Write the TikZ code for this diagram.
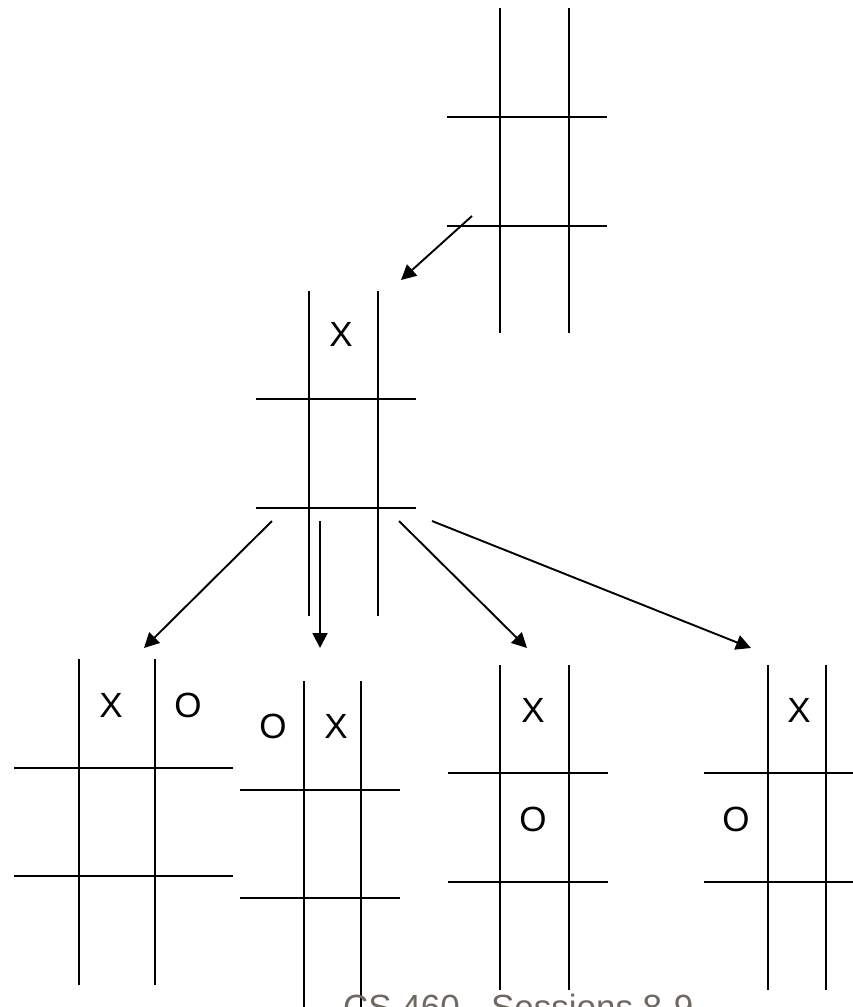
\documentclass[tikz,border=0pt]{standalone}
\usepackage{fontspec}
\setmainfont{Liberation Sans}
\usetikzlibrary{arrows.meta}
\definecolor{footgray}{RGB}{110,104,98}
\tikzset{
  grid/.style={line width=2.8pt, black},
  move/.style={line width=1.9pt, black, -{Triangle[length=15pt,width=15pt]}},
  piece/.style={font=\fontsize{35}{35}\selectfont, inner sep=0pt},
}
% \tttboard{left x}{right x}{top y}{bottom y}{first row y}{second row y}{west end}{east end}
\newcommand{\tttboard}[8]{%
  \draw[grid] (#1,#3) -- (#1,#4);
  \draw[grid] (#2,#3) -- (#2,#4);
  \draw[grid] (#7,#5) -- (#8,#5);
  \draw[grid] (#7,#6) -- (#8,#6);
}
\begin{document}
\begin{tikzpicture}[x=1pt,y=-1pt]
\useasboundingbox (0,0) rectangle (853,1007);

% root: empty board
\tttboard{500}{569}{8}{333}{117}{226}{447}{607}

% level 1: X in the top middle square
\tttboard{309}{378}{291}{616}{399}{508}{256}{416}
\node[piece] (m1) at (341,334) {X};

% level 2 boards
\tttboard{79}{155}{659}{985}{768}{876}{14}{233}
\node[piece] (a1) at (111,705) {X};
\node[piece] (a2) at (188,705) {O};

\tttboard{304}{361}{681}{1010}{790}{898}{240}{400}
\node[piece] (b1) at (273,726) {O};
\node[piece] (b2) at (336,726) {X};

\tttboard{500}{569}{665}{990}{773}{882}{448}{608}
\node[piece] (c1) at (533,710) {X};
\node[piece] (c2) at (533,819) {O};

\tttboard{768}{826}{665}{990}{773}{882}{704}{853}
\node[piece] (d1) at (799,710) {X};
\node[piece] (d2) at (736,819) {O};

% move arrows
\coordinate (r0) at (472,216);
\coordinate (r1) at (401,280);
\draw[move] (r0) -- (r1);

\coordinate (s1) at (272,521);
\coordinate (s2) at (320,521);
\coordinate (s3) at (399,521);
\coordinate (s4) at (432,521);
\coordinate (t1) at (144,648);
\coordinate (t2) at (320,648);
\coordinate (t3) at (527,648);
\coordinate (t4) at (751,648);
\draw[move] (s1) -- (t1);
\draw[move] (s2) -- (t2);
\draw[move] (s3) -- (t3);
\draw[move] (s4) -- (t4);

% footer
\node[anchor=north west, inner sep=0pt, text=footgray,
      font=\fontsize{35}{35}\selectfont] (foot) at (343,994) {CS 460 - Sessions 8-9};
\end{tikzpicture}
\end{document}
